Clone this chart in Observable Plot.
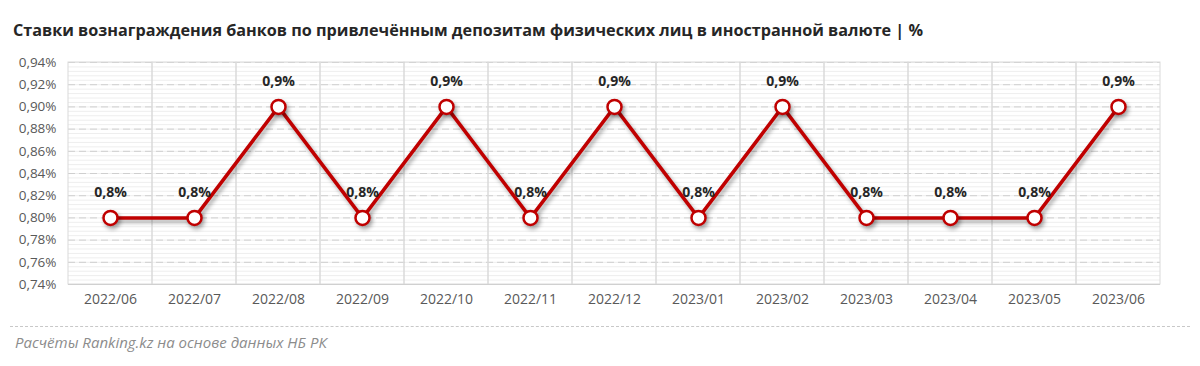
<!DOCTYPE html>
<html>
<head>
<meta charset="utf-8">
<script src="https://cdn.jsdelivr.net/npm/d3@7"></script>
<script src="https://cdn.jsdelivr.net/npm/@observablehq/plot@0.6"></script>
<style>
  html, body { margin: 0; padding: 0; background: #fff; width: 1200px; height: 366px; overflow: hidden; }
  body { font-family: "Open Sans", "Noto Sans", sans-serif; }
  #title { position: absolute; left: 13px; top: 19px; font-size: 16.2px; font-weight: bold; color: #262626; white-space: nowrap; }
  #chart { position: absolute; left: 0; top: 48px; }
  #sep { position: absolute; left: 10px; top: 326px; width: 1180px; border-top: 1px dashed #c8c8c8; }
  #caption { position: absolute; left: 15px; top: 332px; font-size: 15px; font-style: italic; color: #8c8c8c; white-space: nowrap; }
</style>
</head>
<body>
<div id="title">Ставки вознаграждения банков по привлечённым депозитам физических лиц в иностранной валюте | %</div>
<div id="chart"></div>
<div id="sep"></div>
<div id="caption">Расчёты Ranking.kz на основе данных НБ РК</div>
<script>
const months = ["2022/06","2022/07","2022/08","2022/09","2022/10","2022/11","2022/12","2023/01","2023/02","2023/03","2023/04","2023/05","2023/06"];
const rates = [0.8, 0.8, 0.9, 0.8, 0.9, 0.8, 0.9, 0.8, 0.9, 0.8, 0.8, 0.8, 0.9];
const yTicks = [0.74, 0.76, 0.78, 0.80, 0.82, 0.84, 0.86, 0.88, 0.90, 0.92, 0.94];
const yDomain = [0.74, 0.94];

const data = months.map((m, i) => ({month: m, rate: rates[i]}));
const minorTicks = d3.range(0, 51).map(i => +(yDomain[0] + i * 0.004).toFixed(3));
const fmtTick = d => d.toFixed(2).replace(".", ",") + "%";
const fmtLabel = d => d.toFixed(1).replace(".", ",") + "%";

const chart = Plot.plot({
  width: 1200,
  height: 268,
  marginLeft: 68,
  marginRight: 40,
  marginTop: 14,
  marginBottom: 32,
  style: {fontFamily: "'Open Sans', sans-serif", background: "transparent"},
  x: {type: "band", domain: months, padding: 0, label: null, tickSize: 0, tickPadding: 10},
  y: {domain: yDomain, label: null, ticks: yTicks, tickFormat: fmtTick, tickSize: 0, tickPadding: 12},
  marks: [
    Plot.ruleY(minorTicks, {stroke: "#eeeeee", strokeWidth: 1}),
    Plot.ruleY(yTicks.slice(1), {stroke: "#cfcfcf", strokeDasharray: "7,4", strokeWidth: 1}),
    Plot.cell(months, {x: d => d, fill: "none", stroke: "#dadada", strokeWidth: 1}),
    Plot.ruleY([yDomain[0]], {stroke: "#d0d0d0", strokeWidth: 1}),
    Plot.lineY(data, {x: "month", y: "rate", stroke: "#c00000", strokeWidth: 3.5}),
    Plot.dot(data, {x: "month", y: "rate", r: 7, fill: "white", stroke: "#c00000", strokeWidth: 2.5}),
    Plot.text(data, {x: "month", y: "rate", text: d => fmtLabel(d.rate), dy: -25, fontWeight: "bold", fontSize: 14, fill: "#262626"})
  ]
});

chart.querySelectorAll('[aria-label="x-axis tick label"] text, [aria-label="y-axis tick label"] text').forEach(t => t.setAttribute("fill", "#595959"));
const xl = chart.querySelector('[aria-label="x-axis tick label"]');
if (xl) { xl.setAttribute("font-size", "14"); xl.style.fontSize = "14px"; }
const yl = chart.querySelector('[aria-label="y-axis tick label"]');
if (yl) { yl.setAttribute("font-size", "13.5"); yl.style.fontSize = "13.5px"; }
["line", "dot"].forEach(k => {
  const g = chart.querySelector(`[aria-label="${k}"]`);
  if (g) g.style.filter = "drop-shadow(2px 3px 2px rgba(0,0,0,0.35))";
});
document.getElementById("chart").appendChild(chart);
</script>
</body>
</html>
